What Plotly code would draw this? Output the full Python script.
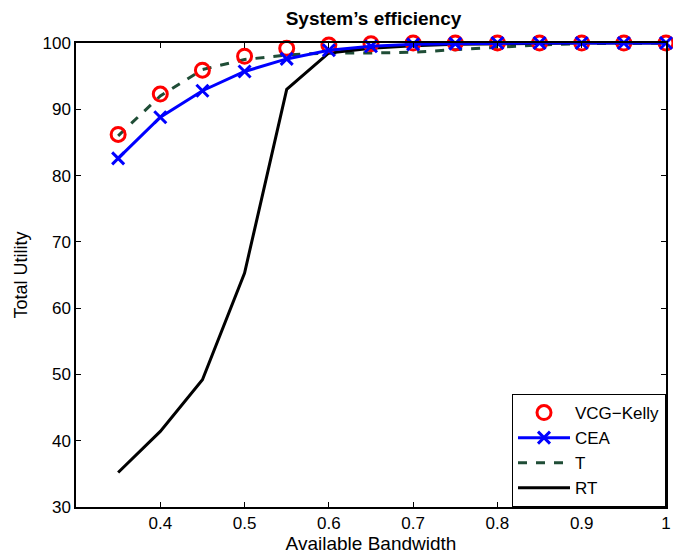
import plotly.graph_objects as go

bandwidth = [0.35, 0.40, 0.45, 0.50, 0.55, 0.60, 0.65, 0.70, 0.75, 0.80, 0.85, 0.90, 0.95, 1.00]
vcg_kelly = [86.2, 92.3, 95.9, 98.0, 99.2, 99.7, 99.9, 100.0, 100.0, 100.0, 100.0, 100.0, 100.0, 100.0]
cea = [82.6, 88.8, 92.8, 95.7, 97.6, 98.9, 99.5, 99.8, 99.9, 100.0, 100.0, 100.0, 100.0, 100.0]
t_series = [86.0, 92.0, 96.0, 97.5, 98.2, 98.5, 98.5, 98.6, 99.0, 99.4, 99.7, 99.9, 100.0, 100.0]
rt_series = [35.2, 41.4, 49.2, 65.3, 93.0, 98.5, 99.2, 99.6, 99.8, 99.9, 100.0, 100.0, 100.0, 100.0]

x_tickvals = [0.4, 0.5, 0.6, 0.7, 0.8, 0.9, 1.0]
x_ticktext = ["0.4", "0.5", "0.6", "0.7", "0.8", "0.9", "1"]
y_tickvals = [30, 40, 50, 60, 70, 80, 90, 100]

FONT = "Liberation Sans, Arial, Helvetica, sans-serif"

fig = go.Figure()
fig.add_trace(go.Scatter(
    x=bandwidth, y=t_series, name="T", mode="lines", legendrank=3,
    line=dict(color="#1f4d36", width=3, dash="dash"),
))
fig.add_trace(go.Scatter(
    x=bandwidth, y=rt_series, name="RT", mode="lines", legendrank=4,
    line=dict(color="black", width=3),
))
fig.add_trace(go.Scatter(
    x=bandwidth, y=vcg_kelly, name="VCG−Kelly", mode="markers", legendrank=1,
    marker=dict(symbol="circle-open", size=14, color="#ff0000", line=dict(width=3, color="#ff0000")),
    cliponaxis=False,
))
fig.add_trace(go.Scatter(
    x=bandwidth, y=cea, name="CEA", mode="lines+markers", legendrank=2,
    line=dict(color="#0000ff", width=3),
    marker=dict(symbol="x-thin-open", size=12, color="#0000ff", line=dict(width=3, color="#0000ff")),
    cliponaxis=False,
))

fig.update_layout(
    width=673, height=554,
    margin=dict(l=76, r=2, t=43, b=43),
    paper_bgcolor="white", plot_bgcolor="white",
    font=dict(family=FONT, size=17, color="black"),
    title=dict(text="<b>System’s efficiency</b>", x=0.555,
               xanchor="center", y=1 - 18 / 554, yanchor="middle",
               font=dict(family=FONT, size=19, color="black")),
    showlegend=True,
    legend=dict(x=1, xanchor="right", y=0, yanchor="bottom",
                bordercolor="black", borderwidth=1, bgcolor="white",
                font=dict(family=FONT, size=17, color="black"),
                tracegroupgap=0, itemwidth=52),
    xaxis=dict(
        range=[0.3, 1.0], tickvals=x_tickvals, ticktext=x_ticktext,
        ticks="inside", ticklen=5, tickcolor="black", tickwidth=1,
        showline=True, linecolor="black", linewidth=1.5, mirror="ticks",
        showgrid=False, zeroline=False, ticklabeloverflow="allow",
        tickfont=dict(family=FONT, size=17),
        title=dict(text="Available Bandwidth", standoff=6, font=dict(family=FONT, size=19)),
    ),
    yaxis=dict(
        range=[30, 100], tickvals=y_tickvals,
        ticks="inside", ticklen=5, tickcolor="black", tickwidth=1,
        showline=True, linecolor="black", linewidth=1.5, mirror="ticks",
        showgrid=False, zeroline=False,
        tickfont=dict(family=FONT, size=17),
        title=dict(text="Total Utility", standoff=10, font=dict(family=FONT, size=18)),
    ),
)

fig.write_html("out.html")
